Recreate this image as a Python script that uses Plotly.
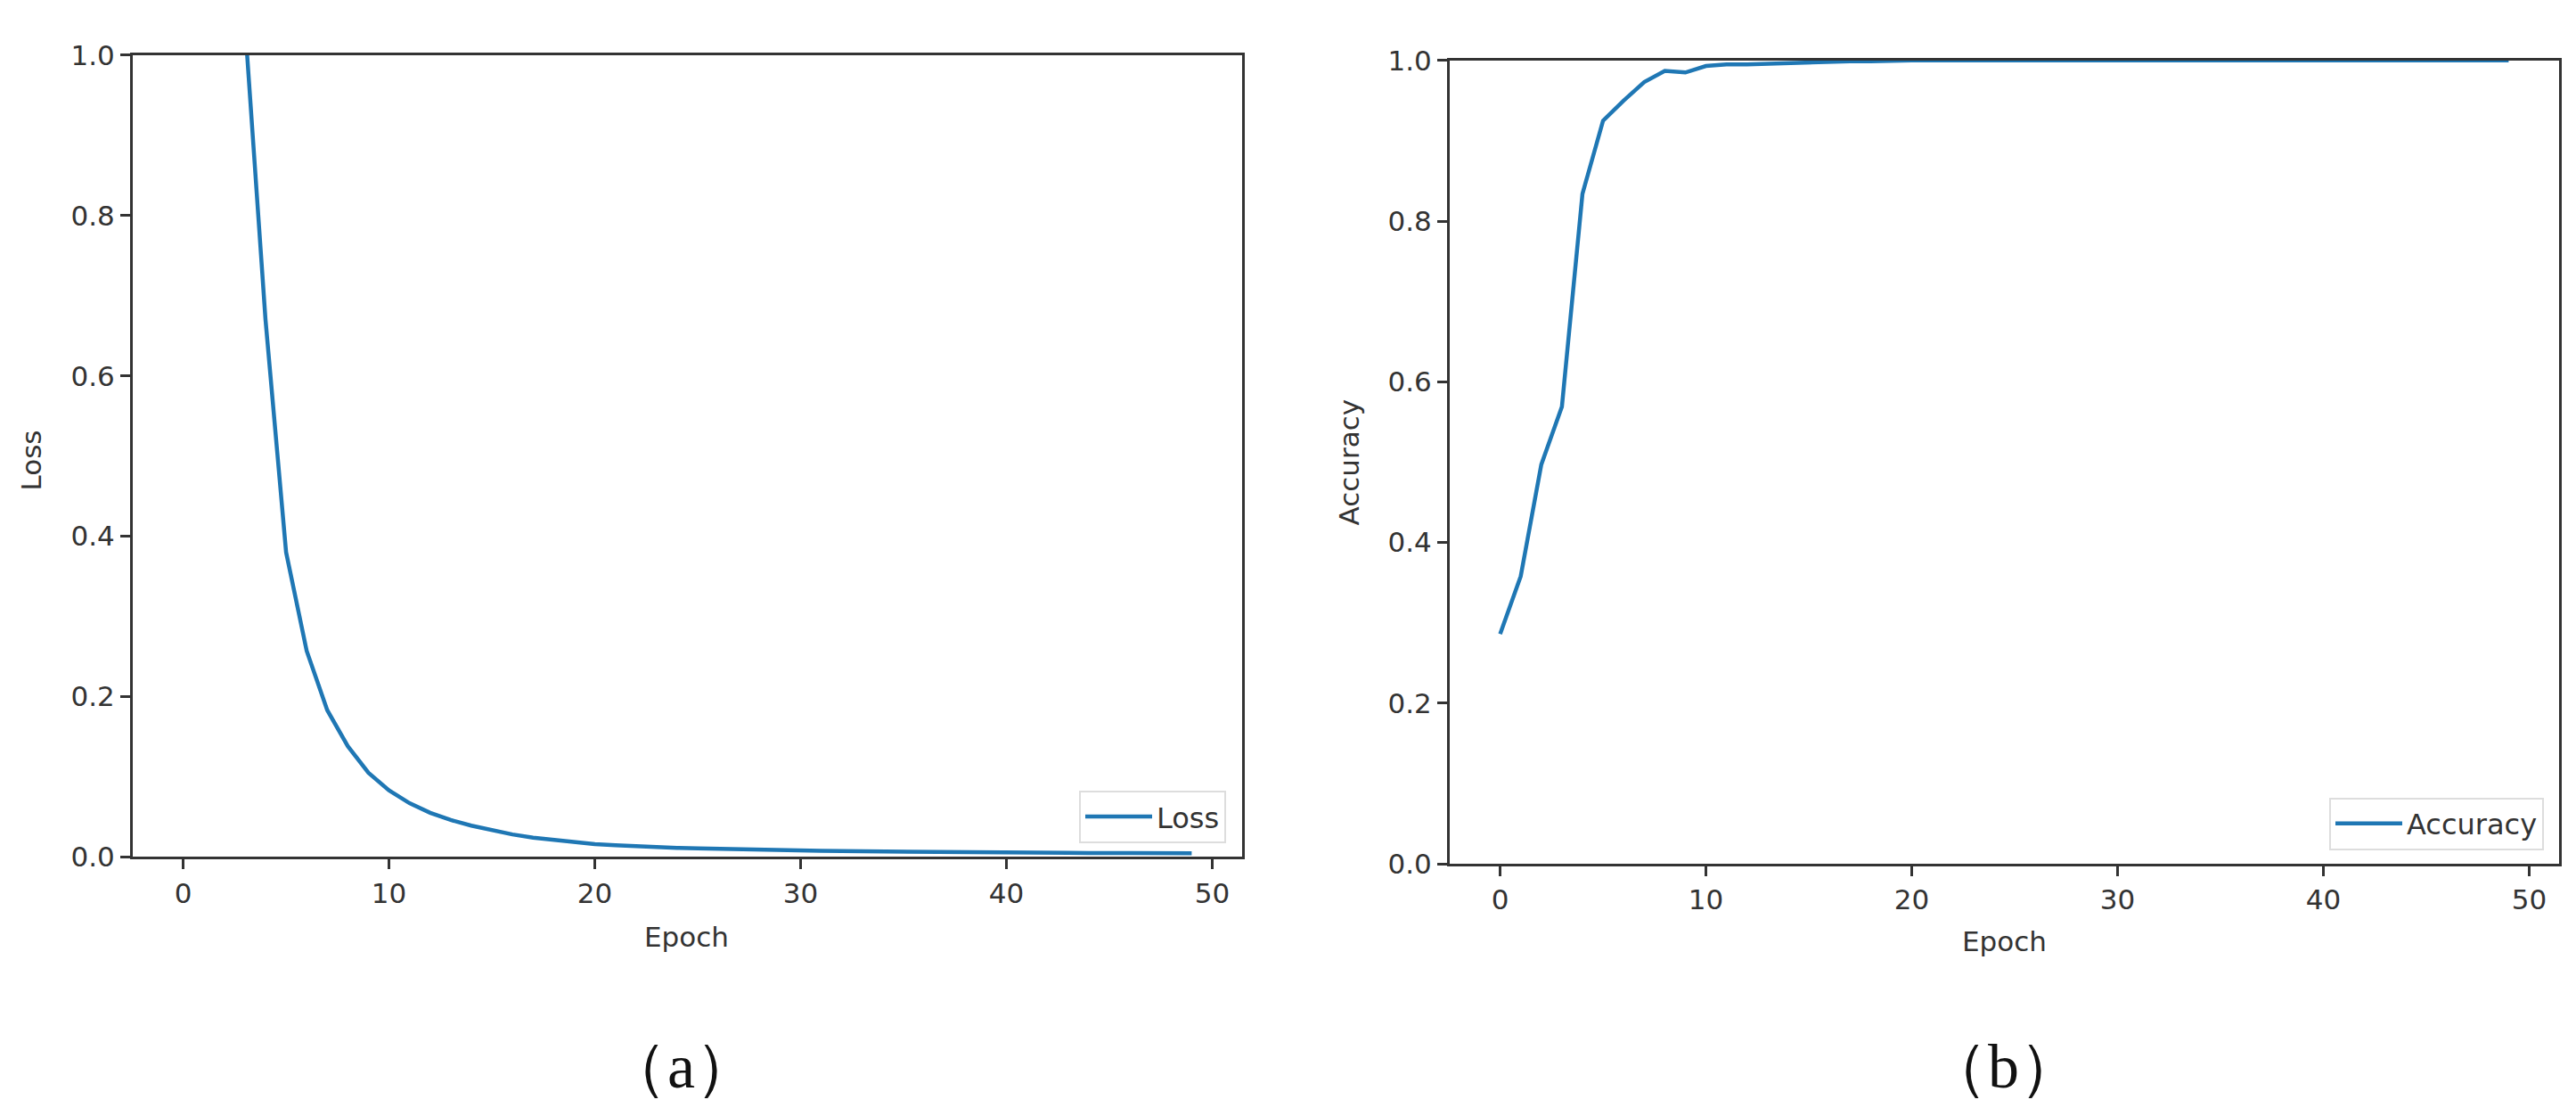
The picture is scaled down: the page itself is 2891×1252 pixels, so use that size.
import plotly.graph_objects as go

W, H = 2891, 1252

epochs = list(range(50))

# training loss per epoch (first values run off the top of the 0..1 axis)
loss = [
    4.5, 2.6, 1.6, 1.04, 0.67, 0.38, 0.257, 0.183, 0.138, 0.105,
    0.083, 0.067, 0.055, 0.046, 0.039, 0.033, 0.028, 0.024, 0.021, 0.018,
    0.016, 0.0145, 0.013, 0.012, 0.0112, 0.0105, 0.0098, 0.0092, 0.0087, 0.0082,
    0.0078, 0.0075, 0.0072, 0.0069, 0.0066, 0.0064, 0.0062, 0.0060, 0.0058, 0.0056,
    0.0055, 0.0053, 0.0052, 0.0050, 0.0049, 0.0048, 0.0047, 0.0046, 0.0045, 0.0044,
]

# training accuracy per epoch
accuracy = [
    0.286, 0.358, 0.497, 0.569, 0.834, 0.925, 0.950, 0.973, 0.987, 0.985,
    0.993, 0.995, 0.995, 0.996, 0.997, 0.998, 0.999, 0.999, 0.999, 1.0,
    1.0, 1.0, 1.0, 1.0, 1.0, 1.0, 1.0, 1.0, 1.0, 1.0,
    1.0, 1.0, 1.0, 1.0, 1.0, 1.0, 1.0, 1.0, 1.0, 1.0,
    1.0, 1.0, 1.0, 1.0, 1.0, 1.0, 1.0, 1.0, 1.0, 1.0,
]

x_ticks = [0, 10, 20, 30, 40, 50]
y_ticks = [0.0, 0.2, 0.4, 0.6, 0.8, 1.0]

BLUE = "#1f77b4"
INK = "#333333"
FONT = "DejaVu Sans"


def px_x(v):
    return v / W


def px_y(v):
    return 1 - v / H


fig = go.Figure()
fig.add_trace(go.Scatter(x=epochs, y=loss, mode="lines", name="Loss",
                         line=dict(color=BLUE, width=4.5), showlegend=True,
                         xaxis="x", yaxis="y", legend="legend"))
fig.add_trace(go.Scatter(x=epochs, y=accuracy, mode="lines", name="Accuracy",
                         line=dict(color=BLUE, width=4.5), showlegend=True,
                         xaxis="x2", yaxis="y2", legend="legend2"))

axis_common = dict(
    showline=True, mirror=True, linecolor=INK, linewidth=3,
    ticks="outside", ticklen=11, tickwidth=3, tickcolor=INK,
    showgrid=False, zeroline=False,
    tickfont=dict(family=FONT, size=31, color=INK),
)

legend_common = dict(
    xanchor="right", yanchor="bottom",
    bordercolor="#dddddd", borderwidth=2, bgcolor="white",
    itemwidth=75,
    font=dict(family=FONT, size=32, color=INK),
)

fig.update_layout(
    width=W, height=H,
    margin=dict(l=0, r=0, t=0, b=0),
    paper_bgcolor="white", plot_bgcolor="white",
    font=dict(family=FONT, color=INK),
    showlegend=True,
    xaxis=dict(domain=[px_x(141), px_x(1386)], range=[-2.45, 51.45],
               tickvals=x_ticks, anchor="y", **axis_common),
    yaxis=dict(domain=[px_y(963), px_y(37)], range=[0, 1],
               tickvals=y_ticks, tickformat=".1f", anchor="x", **axis_common),
    xaxis2=dict(domain=[px_x(1619), px_x(2864)], range=[-2.45, 51.45],
                tickvals=x_ticks, anchor="y2", **axis_common),
    yaxis2=dict(domain=[px_y(971), px_y(43)], range=[0, 1],
                tickvals=y_ticks, tickformat=".1f", anchor="x2", **axis_common),
    legend=dict(x=px_x(1368), y=px_y(947), **legend_common),
    legend2=dict(x=px_x(2847), y=px_y(955), **legend_common),
)

label_font = dict(family=FONT, size=31, color=INK)
caption_font = dict(family="Liberation Serif", size=70, color="#111111")

annotations = [
    dict(text="Loss", x=px_x(27), y=px_y(505), textangle=-90, font=label_font),
    dict(text="Epoch", x=px_x(763), y=px_y(1055), font=label_font),
    dict(text="Accuracy", x=px_x(1506), y=px_y(507), textangle=-90, font=label_font),
    dict(text="Epoch", x=px_x(2241), y=px_y(1060), font=label_font),
    dict(text="（a）", x=px_x(756), y=px_y(1205), font=caption_font),
    dict(text="（b）", x=px_x(2240), y=px_y(1205), font=caption_font),
]
for a in annotations:
    fig.add_annotation(xref="paper", yref="paper", showarrow=False,
                       xanchor="center", yanchor="middle", **a)

fig.write_html("out.html")
